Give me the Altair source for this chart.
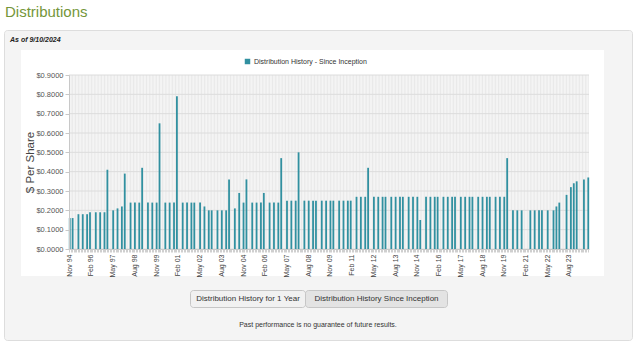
import altair as alt
import pandas as pd

# ---------------- data ----------------
DIST_MONTHS = [
    "Nov 94", "Jan 95", "May 95", "Aug 95", "Nov 95", "Jan 96", "May 96", "Aug 96", "Nov 96",
    "Jan 97", "May 97", "Aug 97", "Nov 97", "Jan 98", "May 98", "Aug 98", "Nov 98",
    "Jan 99", "May 99", "Aug 99", "Nov 99", "Jan 00", "May 00", "Aug 00", "Nov 00",
    "Jan 01", "May 01", "Aug 01", "Nov 01", "Jan 02", "May 02", "Aug 02", "Nov 02",
    "Jan 03", "May 03", "Aug 03", "Nov 03", "Jan 04", "May 04", "Aug 04", "Nov 04",
    "Jan 05", "May 05", "Aug 05", "Nov 05", "Jan 06", "May 06", "Aug 06", "Nov 06",
    "Jan 07", "May 07", "Aug 07", "Nov 07", "Jan 08", "May 08", "Aug 08", "Nov 08",
    "Jan 09", "May 09", "Aug 09", "Nov 09", "Jan 10", "May 10", "Aug 10", "Nov 10",
    "Jan 11", "May 11", "Aug 11", "Nov 11", "Jan 12", "May 12", "Aug 12", "Nov 12",
    "Jan 13", "May 13", "Aug 13", "Nov 13", "Jan 14", "May 14", "Aug 14", "Nov 14",
    "Jan 15", "May 15", "Aug 15", "Nov 15", "Jan 16", "May 16", "Aug 16", "Nov 16",
    "Jan 17", "May 17", "Aug 17", "Nov 17", "Jan 18", "May 18", "Aug 18", "Nov 18",
    "Jan 19", "May 19", "Aug 19", "Nov 19", "Jan 20", "May 20", "Aug 20", "Nov 20",
    "May 21", "Aug 21", "Nov 21", "Jan 22", "May 22", "Sep 22", "Nov 22", "Jan 23",
    "Jun 23", "Sep 23", "Nov 23", "Jan 24", "Jun 24", "Sep 24",
]
DIST_VALUES = [
    0.16, 0.16, 0.18, 0.18, 0.18, 0.19, 0.19, 0.19, 0.19,
    0.41, 0.20, 0.21, 0.22, 0.39, 0.24, 0.24, 0.24,
    0.42, 0.24, 0.24, 0.24, 0.65, 0.24, 0.24, 0.24,
    0.79, 0.24, 0.24, 0.24, 0.24, 0.24, 0.22, 0.20,
    0.20, 0.20, 0.20, 0.20, 0.36, 0.21, 0.29, 0.24,
    0.36, 0.24, 0.24, 0.24, 0.29, 0.24, 0.24, 0.24,
    0.47, 0.25, 0.25, 0.25, 0.50, 0.25, 0.25, 0.25,
    0.25, 0.25, 0.25, 0.25, 0.25, 0.25, 0.25, 0.25,
    0.25, 0.27, 0.27, 0.27, 0.42, 0.27, 0.27, 0.27,
    0.27, 0.27, 0.27, 0.27, 0.27, 0.27, 0.27, 0.27,
    0.15, 0.27, 0.27, 0.27, 0.27, 0.27, 0.27, 0.27,
    0.27, 0.27, 0.27, 0.27, 0.27, 0.27, 0.27, 0.27,
    0.27, 0.27, 0.27, 0.27, 0.47, 0.20, 0.20, 0.20,
    0.20, 0.20, 0.20, 0.20, 0.20, 0.20, 0.22, 0.24,
    0.28, 0.32, 0.34, 0.35, 0.36, 0.37,
]
TICK_LABELS = [
    "Nov 94", "Feb 96", "May 97", "Aug 98", "Nov 99", "Feb 01", "May 02", "Aug 03",
    "Nov 04", "Feb 06", "May 07", "Aug 08", "Nov 09", "Feb 11", "May 12", "Aug 13",
    "Nov 14", "Feb 16", "May 17", "Aug 18", "Nov 19", "Feb 21", "May 22", "Aug 23",
]
Y_TICKS = [0.0, 0.1, 0.2, 0.3, 0.4, 0.5, 0.6, 0.7, 0.8, 0.9]
SERIES_NAME = "Distribution History - Since Inception"
FIRST_MONTH, LAST_MONTH = "1994-11", "2024-09"

PAGE_TITLE = "Distributions"
AS_OF = "As of 9/10/2024"
BUTTONS = ["Distribution History for 1 Year", "Distribution History Since Inception"]
FOOTER = "Past performance is no guarantee of future results."

# ---------------- layout ----------------
L, T, W, H = 69, 75, 520, 174
CW, CH = 640, 351
FONT = "Liberation Sans"
BAR_COLOR = "#3190a0"


def px(x):
    return x - L


def py(y):
    return y - T


months = pd.period_range(FIRST_MONTH, LAST_MONTH, freq="M").strftime("%b %y").tolist()

bars_df = pd.DataFrame({"month": DIST_MONTHS, "value": DIST_VALUES, "series": SERIES_NAME})
vgrid_df = pd.DataFrame({"month": months})
hgrid_df = pd.DataFrame({"value": Y_TICKS})
one = pd.DataFrame({"k": [0]})

label_list = ",".join("'" + t + "'" for t in TICK_LABELS)
x_enc = alt.X(
    "month:N",
    scale=alt.Scale(domain=months, paddingInner=0, paddingOuter=0),
    axis=alt.Axis(
        title=None, grid=False, labelAngle=-90, labelFontSize=7, labelFont=FONT,
        labelColor="#444", labelOverlap=False, labelPadding=2,
        labelExpr="indexof([" + label_list + "], datum.value) >= 0 ? datum.value : ''",
        tickSize=3, tickColor="#cfcfcf", domainColor="#c8c8c8", zindex=1,
    ),
)
y_enc = alt.Y(
    "value:Q",
    scale=alt.Scale(domain=[0, 0.9], nice=False, zero=True),
    axis=alt.Axis(
        values=Y_TICKS, format="$.4f", title="$ Per Share", titleFontSize=11.5,
        titleFontWeight="normal", titleFont=FONT, titleColor="#444", titlePadding=0,
        labelFontSize=7.5, labelFont=FONT, labelColor="#555", labelPadding=2,
        grid=False, tickSize=4, tickColor="#c8c8c8", domainColor="#c8c8c8", zindex=1,
    ),
)

panel = alt.Chart(one).mark_rect(
    fill="#f4f4f4", stroke="#dddddd", strokeWidth=1, cornerRadius=3
).encode(x=alt.value(px(4.5)), x2=alt.value(px(632.5)), y=alt.value(py(30.5)), y2=alt.value(py(340.5)))

white_box = alt.Chart(one).mark_rect(fill="white").encode(
    x=alt.value(px(21)), x2=alt.value(px(604)), y=alt.value(py(50)), y2=alt.value(py(276))
)

vgrid = alt.Chart(vgrid_df).mark_rule(color="#e9e9e9", strokeWidth=1).encode(
    x=x_enc, y=alt.value(0), y2=alt.value(H)
)
hgrid = alt.Chart(hgrid_df).mark_rule(color="#dcdcdc", strokeWidth=1).encode(
    y=y_enc, x=alt.value(0), x2=alt.value(W)
)

bars = alt.Chart(bars_df).mark_bar(size=1.8).encode(
    x=x_enc,
    y=y_enc,
    color=alt.Color(
        "series:N",
        scale=alt.Scale(range=[BAR_COLOR]),
        legend=alt.Legend(
            orient="none", legendX=px(244), legendY=py(58), title=None,
            symbolType="square", symbolSize=30, symbolStrokeWidth=0,
            labelFontSize=7, labelFont=FONT, labelColor="#333", labelOffset=3, padding=0,
        ),
    ),
)


def text(t, x, y, size, align="left", color="#333", weight="normal", style="normal", font=FONT):
    return alt.Chart(one).mark_text(
        text=t, align=align, baseline="middle", fontSize=size, color=color,
        fontWeight=weight, fontStyle=style, font=font,
    ).encode(x=alt.value(px(x)), y=alt.value(py(y)))


def button(x0, x1, fill):
    return alt.Chart(one).mark_rect(
        fill=fill, stroke="#c6c6c6", strokeWidth=1, cornerRadius=3
    ).encode(x=alt.value(px(x0)), x2=alt.value(px(x1)), y=alt.value(py(290.5)), y2=alt.value(py(307.5)))


title = text(PAGE_TITLE, 5, 12, 15, color="#74963a")
as_of = text(AS_OF, 10, 40, 7, color="#222", weight="bold", style="italic")
btn1 = button(190.5, 305.5, "#f1f1f1")
btn2 = button(305.5, 447.5, "#e3e3e3")
btn1_t = text(BUTTONS[0], 248, 299, 8, align="center")
btn2_t = text(BUTTONS[1], 376.5, 299, 8, align="center")
footer = text(FOOTER, 318, 325, 7, align="center", color="#333")

chart = alt.layer(
    panel, white_box, vgrid, hgrid, bars,
    title, as_of, btn1, btn2, btn1_t, btn2_t, footer,
).properties(
    width=W, height=H,
    padding={"left": L, "top": T, "right": CW - L - W, "bottom": CH - T - H},
    autosize=alt.AutoSizeParams(type="none"),
    background="white",
).configure_view(stroke=None)

chart.save("out.html", embed_options={"renderer": "svg", "actions": False})
